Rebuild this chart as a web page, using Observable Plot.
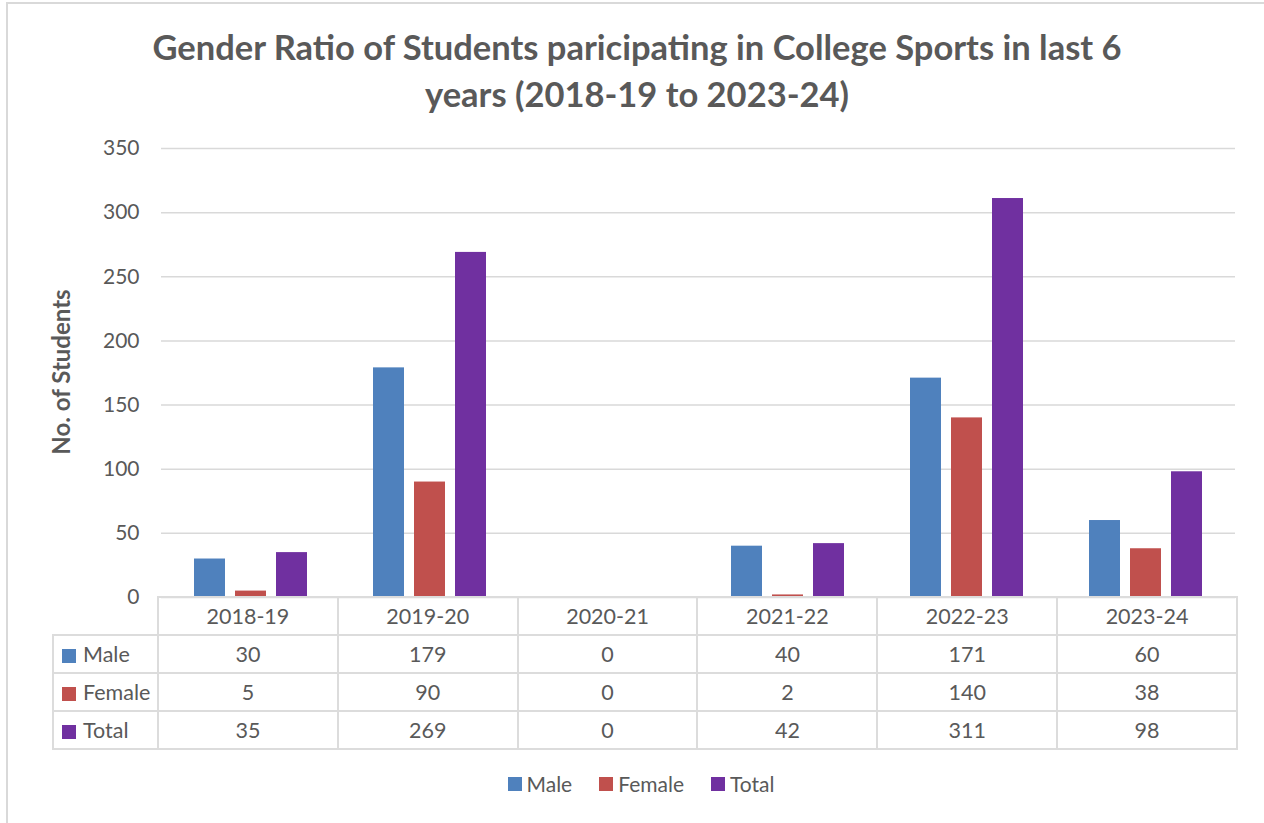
<!DOCTYPE html>
<html>
<head>
<meta charset="utf-8">
<script src="https://cdn.jsdelivr.net/npm/d3@7"></script>
<script src="https://cdn.jsdelivr.net/npm/@observablehq/plot@0.6"></script>
<style>
  html, body { margin: 0; padding: 0; background: #fff; }
  body { width: 1264px; height: 823px; position: relative; overflow: hidden; font-family: Lato, "Open Sans", sans-serif; color: #595959; }
  #frame { position: absolute; left: 6px; top: 2px; width: 1300px; height: 900px; border-top: 2px solid #d9d9d9; border-left: 2px solid #d9d9d9; }
  #title { position: absolute; left: 0; top: 23px; width: 1274px; text-align: center; font-weight: bold; font-size: 34.5px; line-height: 47px; color: #595959; }
  #ylabel { position: absolute; left: 60px; top: 372px; transform: translate(-50%, -50%) rotate(-90deg); font-weight: bold; font-size: 24px; white-space: nowrap; color: #595959; }
  #chart { position: absolute; left: 0; top: 130px; }
  table { position: absolute; left: 52px; top: 596px; border-collapse: collapse; font-size: 21.5px; color: #595959; }
  td { border: 2px solid #dcdcdc; height: 36px; padding: 0; text-align: center; }
  td.lab { text-align: left; padding-left: 8px; }
  td.blank { border: none; }
  .sw { display: inline-block; width: 14px; height: 14px; margin-right: 7px; vertical-align: -1px; }
  #legend { position: absolute; left: 0; width: 1282px; top: 771px; display: flex; justify-content: center; gap: 27px; font-size: 21px; color: #595959; }
  #legend span.item { display: flex; align-items: center; }
  #legend .sw { margin-right: 5px; }
</style>
</head>
<body>
<div id="frame"></div>
<div id="title">Gender Ratio of Students paricipating in College Sports in last 6<br>years (2018-19 to 2023-24)</div>
<div id="ylabel">No. of Students</div>
<div id="chart"></div>
<table id="tbl"></table>
<div id="legend"></div>
<script>
const years = ["2018-19", "2019-20", "2020-21", "2021-22", "2022-23", "2023-24"];
const seriesNames = ["Male", "Female", "Total"];
const male = [30, 179, 0, 40, 171, 60];
const female = [5, 90, 0, 2, 140, 38];
const total = [35, 269, 0, 42, 311, 98];
const colors = ["#4F81BD", "#C0504D", "#7030A0"];
const yTicks = [0, 50, 100, 150, 200, 250, 300, 350];

const valuesBySeries = [male, female, total];
const data = years.flatMap((y, i) => seriesNames.map((s, j) => ({year: y, series: s, value: valuesBySeries[j][i]})));

const W = 1264, mL = 158, mR = 27;
const chart = Plot.plot({
  width: W, height: 495,
  marginLeft: mL, marginRight: mR, marginTop: 18, marginBottom: 28,
  style: {fontFamily: "Lato, 'Open Sans', sans-serif", fontSize: "21px", color: "#595959", background: "transparent"},
  fx: {domain: years, padding: 0, axis: null, label: null},
  x: {domain: seriesNames, paddingInner: 0.25, paddingOuter: 0.8, axis: null, label: null},
  y: {domain: [0, 350], label: null},
  color: {domain: seriesNames, range: colors},
  marks: [
    Plot.gridY(yTicks, {stroke: "#d9d9d9", strokeOpacity: 1, strokeWidth: 1.5}),
    Plot.axisY(yTicks, {tickSize: 0, tickPadding: 22, fill: "#595959", label: null, fontSize: 21}),
    Plot.barY(data, {fx: "year", x: "series", y: "value", fill: "series"})
  ]
});
document.getElementById("chart").appendChild(chart);

// data table
const colW = (W - mL - mR) / years.length;
const tbl = document.getElementById("tbl");
let html = `<tr><td class="blank" style="width:104px"></td>` + years.map(y => `<td style="width:${colW - 2}px">${y}</td>`).join("") + `</tr>`;
seriesNames.forEach((s, j) => {
  html += `<tr><td class="lab"><span class="sw" style="background:${colors[j]}"></span>${s}</td>` +
    valuesBySeries[j].map(v => `<td>${v}</td>`).join("") + `</tr>`;
});
tbl.innerHTML = html;

// legend
document.getElementById("legend").innerHTML = seriesNames.map((s, j) =>
  `<span class="item"><span class="sw" style="background:${colors[j]}"></span>${s}</span>`).join("");
</script>
</body>
</html>
